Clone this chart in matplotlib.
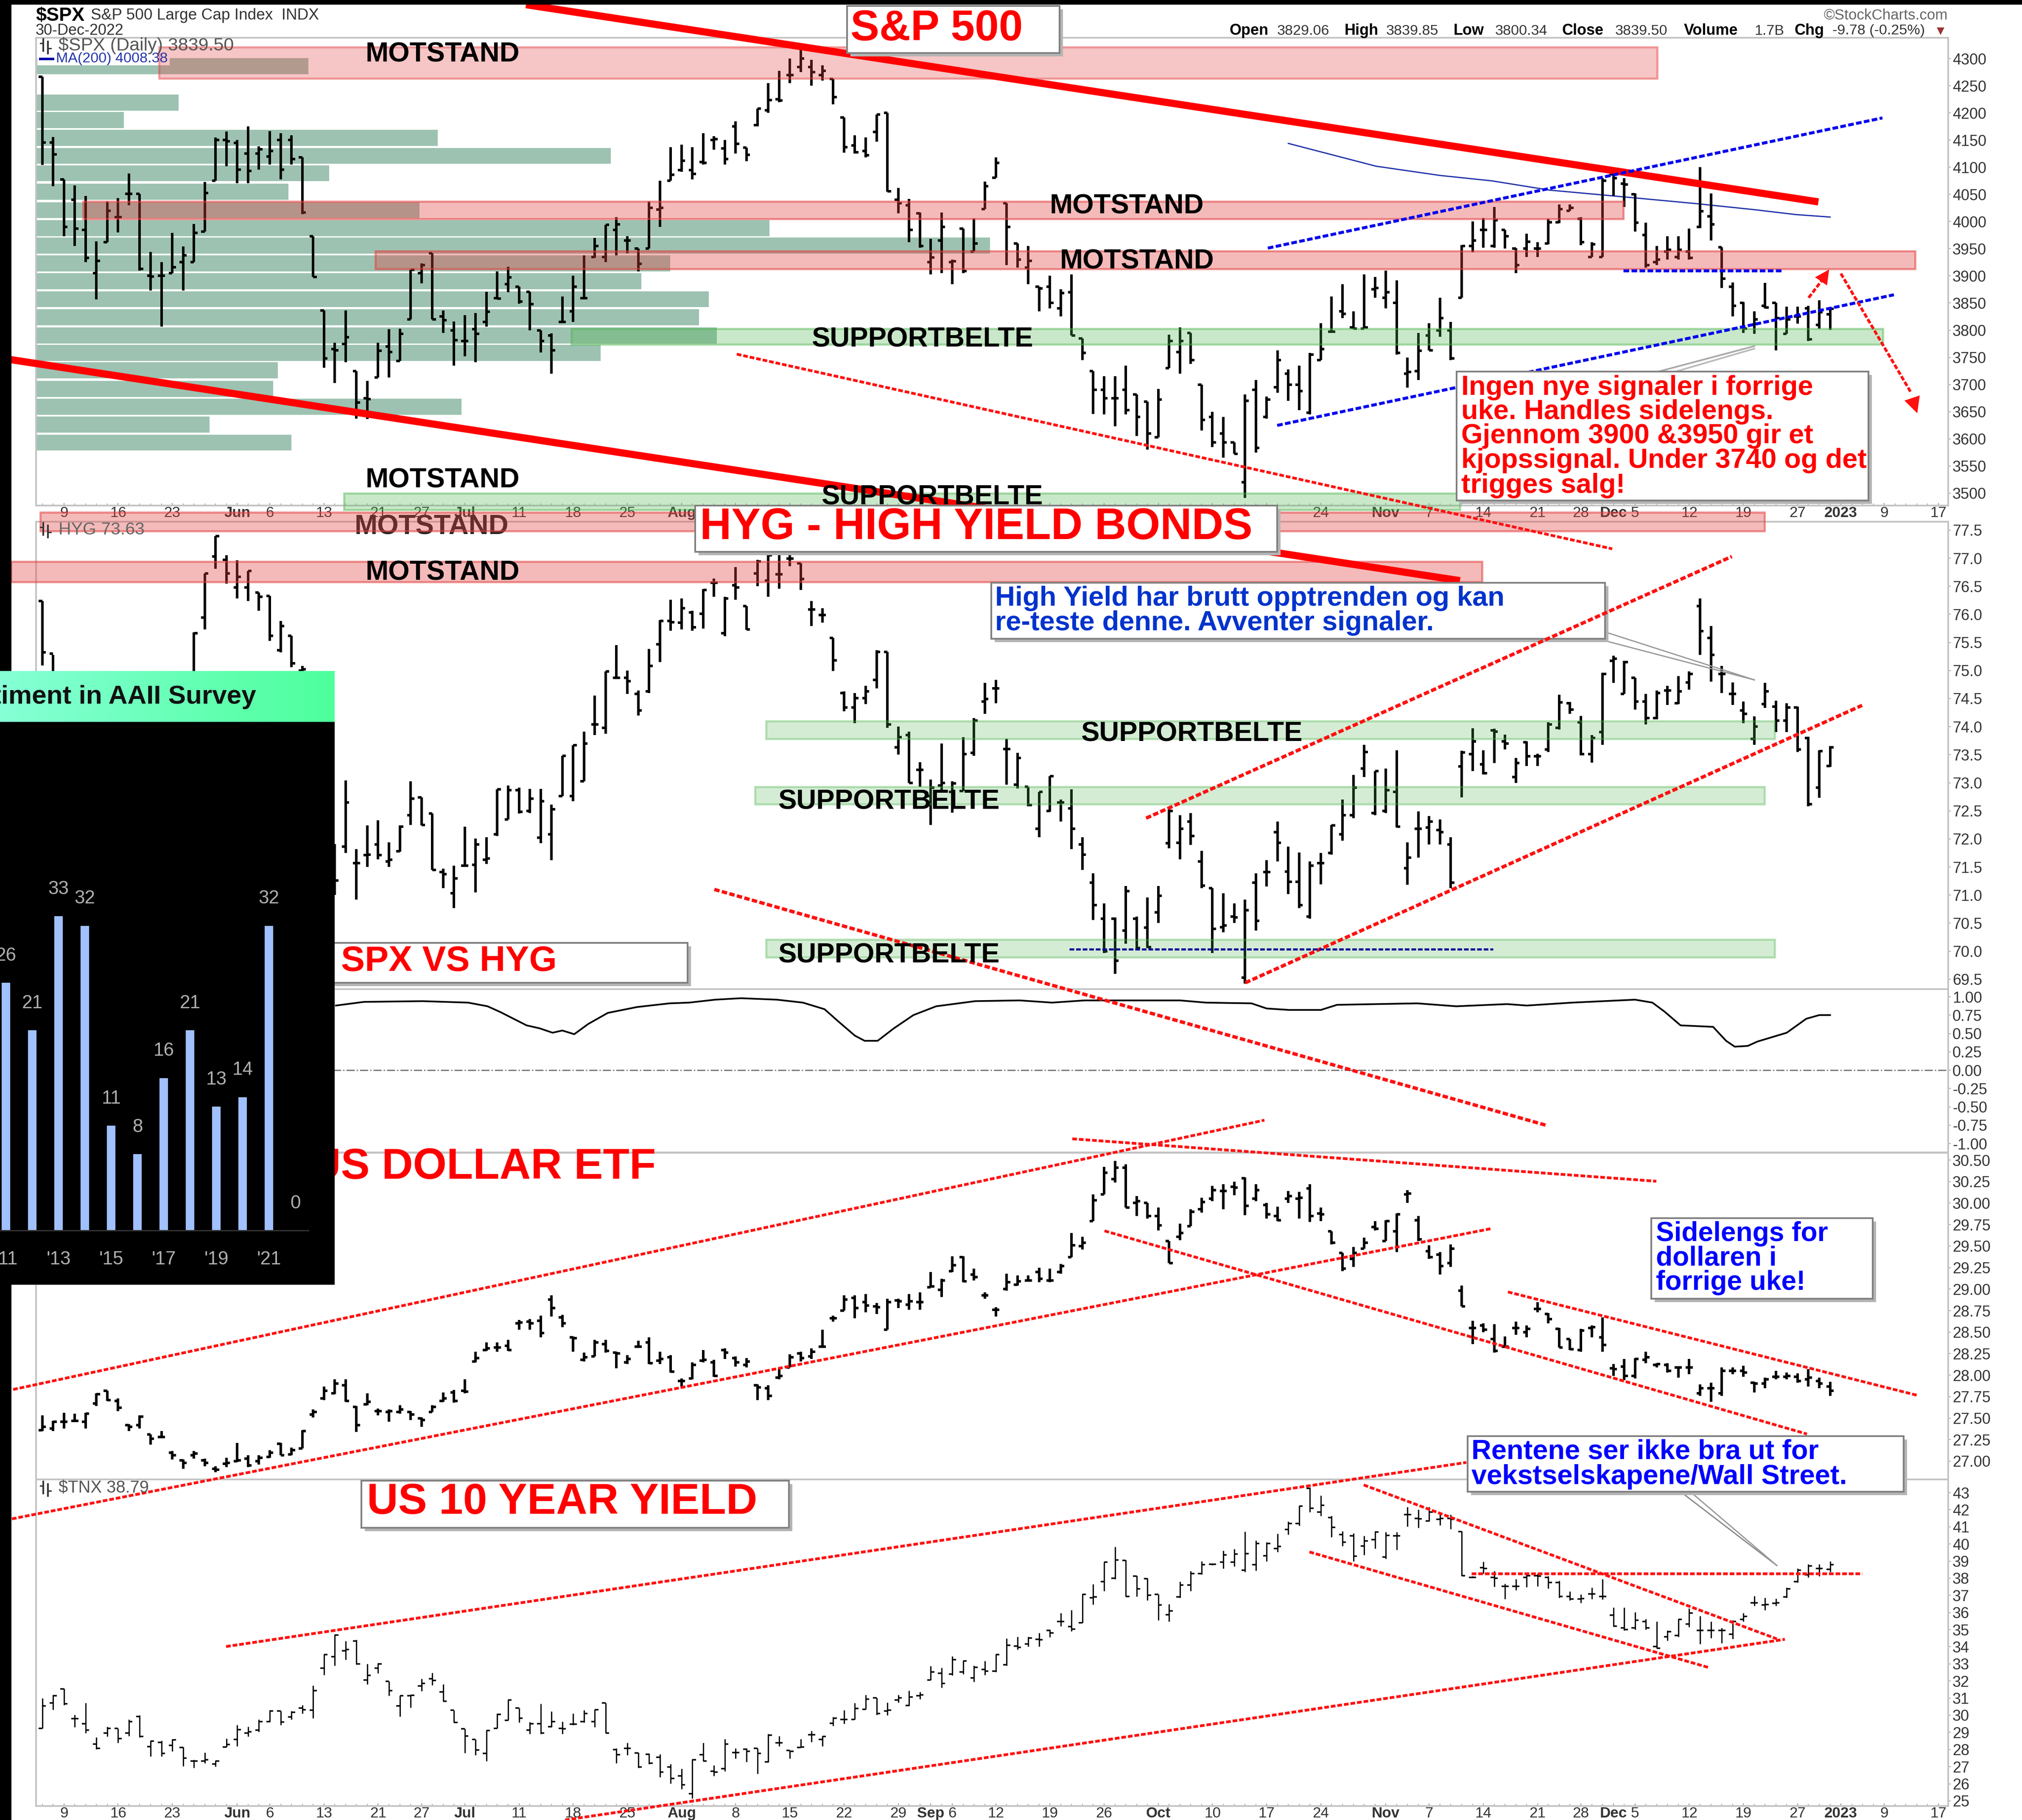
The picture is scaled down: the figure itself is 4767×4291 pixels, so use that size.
import numpy as np
import matplotlib
matplotlib.use("Agg")
import matplotlib.pyplot as plt
from matplotlib.patches import Rectangle
from matplotlib.colors import LinearSegmentedColormap

plt.rcParams['font.family'] = ['Liberation Sans', 'DejaVu Sans']

W = 4767
H = 4291
nan = float('nan')

# ---------- S&P 500 bars ----------
spx_open = [4267,4146,4078,4040,3985,3905,3962,4008,4051,4051,
 3900,3900,3905,3925,3925,3982,4075,4150,4145,4125,
 4125,4120,4150,4150,4118,3973,3836,3765,3775,3725,
 3675,3713,3770,3743,3820,3905,3942,3825,3800,3780,
 3802,3815,3859,3885,3880,3871,3800,3790,3815,3835,
 3859,3935,3935,3985,3965,3950,3950,4022,4075,4095,
 4095,4110,4150,4135,4175,4136,4178,4205,4225,4270,
 4285,4285,4270,4263,4192,4140,4130,4165,4200,4040,
 4030,4015,3925,3965,3925,3987,3945,4023,4081,4034,
 3960,
 3915,3880,3880,3840,3870,3785,3725,3690,3675,3690,
 3682,3668,3603,3730,3760,3795,3700,3640,3610,3593,
 3520,3690,3640,3695,3720,3700,3648,3745,3797,3835,
 3805,3803,3875,3860,3850,3720,3725,3790,3800,3800,
 3860,3955,3985,3955,3985,3950,3950,3950,3960,3999,
 4020,4005,3935,3935,4087,4070,4050,3975,3925,3945,
 3935,3945,3990,4010,3953,3880,3850,3810,3845,3850,
 3793,3825,3840,3810,3829.06]
spx_high = [4267,4156,4078,4067,4047,3964,4037,4043,4089,4051,
 3944,3925,3979,3954,3996,4073,4155,4166,4150,4175,
 4139,4167,4163,4159,4118,3973,3836,3777,3836,3725,
 3707,3777,3802,3803,3911,3923,3942,3836,3816,3828,
 3832,3871,3908,3917,3880,3871,3800,3794,3862,3900,
 3938,3970,3994,4008,3973,3950,4037,4075,4137,4142,
 4137,4163,4157,4150,4185,4136,4208,4255,4278,4300,
 4325,4298,4288,4263,4192,4159,4155,4197,4200,4062,
 4042,4017,3968,4017,3930,3987,4006,4074,4118,4034,
 3960,
 3955,3880,3900,3875,3903,3785,3725,3715,3715,3735,
 3682,3668,3692,3792,3805,3795,3700,3650,3640,3593,
 3682,3708,3678,3763,3728,3735,3758,3813,3862,3885,
 3835,3903,3898,3910,3892,3750,3795,3813,3860,3815,
 3957,4000,4007,4027,3985,3951,3978,3962,4005,4032,
 4032,4008,3962,4080,4090,4080,4052,3998,3955,3973,
 3973,3987,4100,4052,3953,3888,3852,3835,3887,3850,
 3843,3843,3845,3855,3839.85]
spx_low = [4104,4065,3973,3955,3925,3857,3962,3980,4030,3910,
 3873,3807,3905,3873,3925,3982,4075,4102,4071,4071,
 4096,4105,4078,4105,4014,3898,3731,3703,3741,3637,
 3636,3713,3713,3743,3820,3886,3820,3795,3735,3752,
 3741,3807,3857,3870,3849,3800,3759,3720,3815,3815,
 3859,3933,3925,3938,3942,3908,3950,3990,4075,4092,
 4078,4105,4132,4105,4125,4111,4175,4200,4220,4255,
 4275,4250,4260,4216,4127,4125,4118,4147,4055,4015,
 3962,3952,3903,3905,3885,3905,3945,4023,4081,3920,
 3915,
 3885,3835,3840,3825,3790,3745,3646,3645,3623,3645,
 3605,3580,3603,3730,3720,3738,3615,3585,3565,3572,
 3491,3575,3637,3685,3670,3653,3645,3745,3797,3822,
 3802,3803,3860,3840,3755,3694,3708,3763,3788,3745,
 3860,3943,3952,3952,3950,3905,3935,3935,3958,3997,
 4020,3957,3935,3935,4047,4027,3982,3915,3920,3930,
 3930,3930,3988,3965,3878,3825,3795,3793,3840,3763,
 3793,3812,3780,3803,3800.34]
spx_close = [4146,4124,3990,3987,3933,3928,4020,4008,4051,3913,
 3899,3900,3916,3938,3979,4053,4150,4148,4096,4093,
 4133,4130,4096,4115,4017,3898,3748,3763,3787,3667,
 3673,3762,3760,3793,3911,3920,3820,3818,3782,3780,
 3793,3834,3858,3897,3853,3848,3780,3763,3815,3880,
 3859,3955,3994,3995,3965,3922,4025,4025,4086,4112,
 4088,4108,4152,4115,4143,4123,4208,4224,4223,4270,
 4300,4275,4278,4229,4137,4128,4122,4197,4056,4034,
 3985,3955,3934,3990,3927,3909,3960,4065,4108,3990,
 3930,
 3928,3877,3850,3868,3790,3758,3690,3675,3675,3653,
 3640,3610,3672,3780,3780,3745,3635,3593,3593,3572,
 3670,3583,3672,3745,3700,3688,3755,3765,3797,3830,
 3803,3805,3878,3870,3758,3723,3762,3763,3822,3748,
 3955,3965,3985,4003,3973,3920,3963,3950,3999,4023,
 4025,3962,3958,4075,4080,4068,3998,3920,3930,3948,
 3948,3933,4019,3995,3895,3845,3803,3820,3842,3822,
 3820,3825,3783,3833,3839.5]

ma_x = [115,123.1,129,133.8,139.1,146.8,152.7,158,161.8,165]
ma_y = [4144,4102,4085,4075,4058,4044,4033,4022,4013,4008.38]

vbp_price = [4286,4219,4187,4154,4121,4089,4055,4021,3988,3956,3923,3890,3857,3824,3790,3758,3726,3692,3659,3626,3593]
vbp_volume = [642,336,207,947,1355,691,595,904,1729,2249,1495,1427,1586,1563,1605,1331,570,559,1003,409,602]

# ---------- HYG bars (nan = hidden behind the inset) ----------
hyg_open = [76.24,75.3,nan,nan,nan,nan,nan,nan,nan,nan,
 nan,nan,nan,nan,74.7,75.94,77.03,76.97,76.48,76.48,
 76.39,76.33,75.36,75.62,75.0,nan,nan,71.2,71.86,71.57,
 71.71,71.9,71.6,71.78,72.42,72.74,72.45,71.41,71.03,71.52,
 71.54,71.63,72.08,72.35,72.87,72.5,72.02,72.08,72.76,72.76,
 73.03,74.04,73.98,74.87,74.87,74.58,74.63,75.47,75.88,75.85,
 76.03,76.01,76.56,75.66,76.52,76.15,76.73,76.6,76.71,76.99,
 76.91,76.09,75.99,75.58,74.6,74.34,74.51,74.83,75.33,73.63,
 73.85,73.23,72.76,72.95,72.84,72.85,73.53,74.45,74.68,73.6,
 72.97,
 72.93,72.18,72.5,72.65,72.54,71.9,71.22,70.58,70.58,70.37,
 70.58,70.42,70.69,71.92,71.93,72.31,71.6,71.12,70.43,70.62,
 69.53,71.22,71.41,72.12,71.42,71.24,70.62,71.57,71.75,72.08,
 72.42,73.25,72.46,72.5,72.84,71.48,72.18,72.2,72.16,71.9,
 73.29,73.51,73.33,73.93,73.74,73.1,73.72,73.47,73.59,73.98,
 74.42,74.08,73.51,73.9,75.17,74.58,74.87,74.45,74.15,74.64,
 74.42,74.79,76.15,75.58,74.94,74.58,74.29,73.78,74.4,74.36,
 74.11,74.34,73.8,72.91,73.3]
hyg_high = [76.24,75.28,nan,nan,nan,nan,nan,nan,nan,nan,
 nan,nan,nan,nan,75.68,76.73,77.39,77.05,76.96,76.77,
 76.39,76.33,75.88,75.62,75.08,nan,nan,71.91,73.04,71.82,
 72.24,72.33,71.94,72.24,73.03,72.74,72.45,71.47,71.52,72.22,
 72.01,72.03,72.88,72.95,72.91,72.89,72.89,72.61,73.48,73.67,
 73.91,74.55,74.98,75.45,75.0,74.64,75.38,75.9,76.26,76.28,
 76.06,76.45,76.64,76.31,76.84,76.15,76.97,77.12,77.12,77.12,
 76.91,76.24,76.11,75.58,74.63,74.6,74.73,75.36,75.33,74.0,
 73.91,73.37,73.06,73.7,73.03,73.81,74.15,74.78,74.83,73.78,
 73.53,
 72.93,72.84,73.12,72.7,72.88,72.03,71.39,70.85,70.6,71.16,
 70.62,70.96,71.16,72.54,72.42,72.46,71.79,71.12,71.03,70.85,
 70.92,71.39,71.62,72.31,71.86,71.76,71.6,71.75,72.25,72.7,
 73.14,73.68,73.21,73.25,73.58,71.94,72.49,72.41,72.35,72.03,
 73.57,73.97,73.58,73.96,73.86,73.44,73.74,73.52,74.08,74.57,
 74.44,74.19,73.85,74.96,75.26,75.17,74.87,74.58,74.64,74.73,
 74.9,74.98,76.28,75.79,75.08,74.79,74.45,74.18,74.78,74.46,
 74.42,74.36,73.82,73.58,73.65]
hyg_low = [75.09,74.5,nan,nan,nan,nan,nan,nan,nan,nan,
 nan,nan,nan,nan,74.6,75.73,76.81,76.55,76.28,76.24,
 76.06,75.53,75.32,75.06,74.6,nan,nan,71.0,71.75,70.92,
 71.5,71.64,71.5,71.77,72.25,72.24,71.45,71.12,70.77,71.5,
 71.05,71.55,72.05,72.35,72.45,72.46,71.92,71.62,72.76,72.67,
 73.03,73.85,73.87,74.85,74.58,74.2,74.6,75.15,75.71,75.73,
 75.71,75.75,76.31,75.61,76.26,75.72,76.5,76.31,76.46,76.86,
 76.43,75.79,75.85,74.99,74.27,74.06,74.4,74.68,73.98,73.5,
 73.0,72.93,72.25,72.85,72.47,72.85,73.48,74.23,74.42,72.97,
 72.9,
 72.58,72.03,72.48,72.31,71.82,71.45,70.56,69.97,69.6,70.13,
 70.04,70.06,70.5,71.83,71.64,71.89,71.12,69.97,70.34,70.5,
 69.42,70.37,71.15,71.6,71.02,70.77,70.58,71.19,71.72,71.97,
 72.37,73.1,72.42,72.46,72.2,71.18,71.67,71.9,71.9,71.12,
 72.74,73.21,73.15,73.35,73.59,73.0,73.3,73.3,73.55,73.95,
 74.23,73.49,73.36,73.68,74.78,74.58,74.3,74.04,74.13,74.39,
 74.4,74.66,75.28,74.8,74.6,74.39,74.06,73.68,74.33,73.9,
 73.9,73.55,72.58,72.73,73.28]
hyg_close = [75.32,74.9,nan,nan,nan,nan,nan,nan,nan,nan,
 nan,nan,nan,nan,75.66,76.73,77.39,76.73,76.67,76.77,
 76.31,75.62,75.79,75.13,75.02,nan,nan,71.26,72.65,71.57,
 71.72,71.71,71.63,72.22,72.72,72.25,71.45,71.37,71.3,71.52,
 71.9,71.65,72.88,72.87,72.48,72.72,72.67,72.53,73.48,73.67,
 73.7,74.04,74.98,74.87,74.81,74.29,75.08,75.88,75.86,76.11,
 75.77,76.43,76.56,76.28,76.48,75.73,76.94,77.05,76.71,76.99,
 76.63,76.09,75.99,75.18,74.34,74.51,74.63,75.33,74.04,73.81,
 73.0,73.23,72.91,73.0,72.99,73.51,74.11,74.49,74.68,73.6,
 73.44,
 72.6,72.84,73.12,72.65,72.18,71.72,70.82,70.0,69.83,71.07,
 70.06,70.07,70.99,72.5,72.18,72.05,71.17,70.4,70.46,70.6,
 70.73,70.54,71.41,71.93,71.24,70.82,71.52,71.57,72.24,72.42,
 72.91,73.55,73.21,72.87,72.22,71.67,72.18,72.31,72.12,71.22,
 73.54,73.74,73.17,73.91,73.7,73.35,73.47,73.47,74.04,74.43,
 74.3,73.51,73.8,74.94,75.21,75.15,74.45,74.15,74.6,74.64,
 74.63,74.94,75.7,75.28,74.94,74.58,74.23,74.0,74.63,74.11,
 74.34,73.59,72.62,73.56,73.63]

# ---------- SPX vs HYG correlation ----------
corr_x = [27.1,29.7,35.1,39.3,41.1,42.3,44.7,45.9,47.1,48,49.1,50.4,52.2,54.9,57.9,59.7,62.1,64.5,67.8,70.2,
 72.2,73.5,75,75.9,77.1,78.6,80.4,82.5,86.1,90.2,93.2,96.2,105,107.4,111.6,113,115.1,118,119.5,126.9,
 130.5,135.2,137,141.2,147,148.6,149.7,151.2,154.2,155.4,156.2,157.4,158.3,161,162.8,164,165]
corr_y = [.88,.93,.94,.92,.87,.79,.61,.57,.51,.54,.49,.63,.78,.86,.91,.92,.96,.98,.96,.92,
 .83,.66,.47,.40,.40,.57,.75,.87,.94,.95,.92,.95,.95,.92,.91,.84,.82,.82,.89,.91,
 .87,.90,.88,.92,.96,.92,.80,.61,.59,.40,.32,.33,.39,.51,.70,.75,.75]

# ---------- US dollar ETF bars ----------
uup_open = [27.36,27.38,27.46,27.47,27.46,27.67,27.82,27.7,27.42,27.42,
 27.31,27.28,27.1,27.01,27.07,27.01,26.91,26.97,27.0,27.03,
 27.0,27.05,27.2,27.08,27.15,27.54,27.73,27.79,27.88,27.63,
 27.66,27.58,27.57,27.57,27.57,27.5,27.57,27.7,27.8,27.82,
 28.16,28.29,28.32,28.34,28.6,28.62,28.63,28.88,28.67,28.44,
 28.18,28.22,28.36,28.26,28.15,28.33,28.38,28.17,28.21,27.93,
 27.96,28.17,28.15,28.29,28.2,28.12,27.88,27.85,27.97,28.09,
 28.25,28.22,28.33,28.66,28.75,28.9,28.85,28.8,28.53,28.87,
 28.82,28.85,29.02,28.99,29.21,29.37,29.17,28.93,28.76,29.0,
 29.05,
 29.10,29.2,29.1,29.2,29.37,29.5,29.79,30.1,30.28,30.41,
 30.0,30.0,29.85,29.56,29.61,29.73,29.93,30.05,30.14,30.19,
 30.29,30.05,29.98,29.85,30.05,30.05,30.17,29.88,29.67,29.42,
 29.35,29.47,29.72,29.56,29.67,30.1,29.8,29.44,29.4,29.3,
 28.98,28.55,28.58,28.42,28.33,28.55,28.5,28.77,28.71,28.54,
 28.42,28.29,28.55,28.44,28.08,28.1,27.99,28.18,28.12,28.12,
 28.09,28.09,27.79,27.85,27.79,28.05,28.05,27.91,27.9,27.98,
 27.98,27.98,27.95,27.93,27.87]
uup_high = [27.53,27.47,27.56,27.55,27.56,27.79,27.82,27.73,27.43,27.53,
 27.31,27.35,27.12,27.02,27.12,27.03,26.94,27.04,27.21,27.07,
 27.07,27.13,27.21,27.16,27.36,27.6,27.87,27.95,27.95,27.64,
 27.79,27.61,27.6,27.65,27.58,27.51,27.65,27.8,27.83,27.95,
 28.27,28.38,28.38,28.41,28.64,28.65,28.69,28.93,28.7,28.45,
 28.26,28.41,28.41,28.27,28.23,28.4,28.44,28.27,28.23,27.96,
 28.15,28.29,28.18,28.31,28.22,28.2,27.89,27.88,28.09,28.24,
 28.27,28.31,28.53,28.69,28.93,28.93,28.94,28.84,28.89,28.89,
 28.94,28.96,29.2,29.12,29.38,29.38,29.24,28.96,28.79,29.18,
 29.16,
 29.16,29.25,29.24,29.29,29.65,29.61,30.1,30.42,30.49,30.45,
 30.08,30.0,29.95,29.56,29.76,29.93,30.06,30.2,30.22,30.25,
 30.3,30.22,30.0,29.96,30.14,30.13,30.22,29.95,29.67,29.42,
 29.49,29.6,29.79,29.8,29.88,30.15,29.85,29.51,29.43,29.52,
 29.04,28.63,28.6,28.59,28.45,28.62,28.58,28.85,28.72,28.55,
 28.42,28.54,28.58,28.67,28.13,28.19,28.2,28.27,28.14,28.14,
 28.1,28.19,27.89,27.91,28.09,28.09,28.11,27.92,27.97,28.05,
 28.03,28.02,28.07,27.97,27.92]
uup_low = [27.35,27.35,27.38,27.46,27.38,27.64,27.7,27.58,27.35,27.38,
 27.19,27.27,27.02,26.91,27.03,26.94,26.87,26.93,26.99,26.93,
 26.96,27.04,27.07,27.07,27.15,27.51,27.71,27.78,27.69,27.34,
 27.65,27.53,27.46,27.55,27.48,27.4,27.57,27.69,27.68,27.79,
 28.15,28.28,28.27,28.28,28.53,28.53,28.44,28.68,28.56,28.27,
 28.16,28.22,28.26,28.08,28.13,28.32,28.13,28.13,28.03,27.86,
 27.95,28.15,27.98,28.19,28.1,28.09,27.71,27.71,27.95,28.09,
 28.16,28.19,28.32,28.62,28.75,28.66,28.73,28.71,28.53,28.78,
 28.76,28.76,29.02,28.91,29.2,29.08,29.1,28.89,28.68,28.98,
 29.04,
 29.09,29.08,29.08,29.18,29.37,29.46,29.79,30.1,30.24,29.95,
 29.85,29.82,29.68,29.3,29.57,29.73,29.89,30.02,29.93,30.09,
 29.86,30.02,29.82,29.79,30.0,29.82,29.78,29.79,29.52,29.21,
 29.26,29.47,29.68,29.56,29.43,30.0,29.56,29.35,29.17,29.26,
 28.8,28.36,28.5,28.26,28.33,28.47,28.44,28.73,28.6,28.32,
 28.29,28.27,28.44,28.27,27.99,27.94,27.96,28.14,28.09,28.03,
 27.97,28.01,27.76,27.69,27.76,28.01,27.98,27.8,27.85,27.95,
 27.95,27.91,27.87,27.85,27.76]
uup_close = [27.4,27.46,27.46,27.47,27.55,27.78,27.71,27.62,27.4,27.52,
 27.26,27.28,27.07,26.98,27.09,26.98,26.9,26.98,27.01,26.95,
 27.04,27.1,27.07,27.13,27.35,27.57,27.82,27.9,27.7,27.42,
 27.69,27.58,27.58,27.6,27.54,27.48,27.63,27.73,27.7,27.81,
 28.2,28.31,28.32,28.29,28.61,28.6,28.49,28.78,28.6,28.43,
 28.21,28.38,28.28,28.25,28.19,28.33,28.14,28.19,28.04,27.93,
 28.12,28.18,27.99,28.26,28.15,28.16,27.86,27.76,27.99,28.21,
 28.2,28.27,28.33,28.66,28.88,28.78,28.81,28.79,28.85,28.86,
 28.86,28.85,29.03,29.1,29.28,29.09,29.14,28.93,28.76,29.08,
 29.09,
 29.1,29.12,29.1,29.27,29.51,29.54,30.03,30.35,30.41,29.95,
 30.02,29.85,29.74,29.3,29.65,29.9,30.01,30.15,30.14,30.18,
 29.97,30.15,29.87,29.8,30.08,30.06,29.85,29.87,29.54,29.24,
 29.42,29.54,29.7,29.79,29.87,30.11,29.58,29.37,29.27,29.47,
 28.8,28.55,28.53,28.28,28.33,28.55,28.54,28.77,28.65,28.32,
 28.3,28.52,28.56,28.35,28.07,27.99,28.19,28.21,28.13,28.05,
 28.09,28.09,27.85,27.85,28.05,28.05,28.03,27.9,27.95,27.98,
 27.99,27.93,27.97,27.9,27.82]

# ---------- TNX bars ----------
tnx_open = [29.24,30.71,31.53,29.8,29.5,28.32,28.97,29.24,28.97,29.92,
 28.16,28.42,28.25,28.12,27.33,27.33,27.16,28.15,28.58,28.97,
 29.13,29.63,30.26,29.89,30.42,30.29,32.75,33.41,33.76,34.33,
 32.06,32.74,31.97,30.55,31.14,31.7,32.12,31.36,30.29,29.2,
 28.58,27.77,29.24,29.7,30.42,29.13,29.5,29.34,29.24,29.47,
 29.63,29.63,30.71,27.99,28.06,27.8,27.73,27.56,26.97,26.46,
 25.43,27.69,26.72,26.88,27.82,28.03,28.06,27.27,28.38,27.95,
 28.12,28.87,28.58,29.53,29.76,29.76,30.35,31.01,30.26,30.88,
 30.58,31.14,32.06,32.45,32.39,32.52,32.19,32.67,32.58,32.94,
 34.03,
 34.15,34.44,34.95,35.47,35.18,35.4,36.87,37.79,38.0,39.03,
 38.12,37.97,37.06,35.88,36.91,37.6,38.26,38.81,38.93,38.93,
 38.48,38.78,39.32,39.73,40.84,41.2,43.26,41.87,41.53,40.54,
 40.47,39.88,40.25,39.25,40.47,41.72,41.5,41.35,41.43,41.5,
 40.73,38.06,38.63,38.04,37.53,37.53,38.04,38.15,38.04,37.75,
 36.94,36.79,37.09,36.94,35.84,35.1,35.1,35.47,34.0,34.59,
 34.66,35.32,34.95,34.95,34.95,34.73,35.59,36.57,36.43,36.53,
 36.91,37.79,38.19,38.56,38.53]
tnx_high = [30.98,31.2,31.57,30.03,30.71,28.71,29.34,29.24,29.76,30.0,
 28.52,28.52,28.58,28.15,27.4,27.83,27.36,28.65,29.43,29.34,
 29.74,30.29,30.26,30.26,30.6,31.73,33.57,34.71,34.33,34.42,
 33.0,33.04,31.97,31.14,31.2,32.12,32.48,31.8,30.29,29.2,
 28.58,29.13,30.09,30.91,30.42,29.6,30.66,30.22,29.63,30.09,
 30.29,30.31,30.71,28.06,28.39,27.82,27.77,27.73,27.15,26.88,
 27.43,28.38,27.07,28.61,28.06,28.08,28.08,28.91,28.78,27.95,
 28.61,29.08,28.78,29.89,30.29,30.71,31.18,31.01,30.75,31.18,
 31.44,31.36,32.88,32.78,33.44,33.2,32.91,33.17,33.57,34.49,
 34.58,
 34.59,34.81,35.0,35.98,36.13,37.09,37.65,38.95,39.84,39.07,
 38.15,38.0,37.06,36.5,37.79,38.41,39.0,38.85,39.62,39.7,
 40.72,40.2,40.1,40.59,41.32,42.23,43.29,42.82,41.65,40.76,
 40.62,40.47,40.76,40.69,40.69,42.16,42.01,42.16,41.87,41.72,
 40.76,38.12,38.97,38.41,37.68,37.94,38.26,38.26,38.12,37.85,
 37.23,37.06,37.45,37.94,36.28,36.28,36.02,35.62,35.47,34.95,
 35.62,36.23,35.79,35.47,35.1,35.54,35.98,36.97,36.87,36.82,
 37.45,38.56,38.82,38.82,39.0]
tnx_low = [29.24,30.31,30.6,29.3,28.97,28.03,28.75,28.38,28.78,28.71,
 27.6,27.6,27.9,27.03,26.92,27.2,27.01,28.15,28.19,28.75,
 29.04,29.6,29.43,29.76,30.09,29.83,32.36,32.91,33.24,32.98,
 31.8,32.45,31.14,29.92,30.45,31.4,31.76,30.81,29.59,27.8,
 27.66,27.33,29.24,29.7,29.57,28.91,28.91,29.3,28.91,29.43,
 29.57,29.3,28.97,27.2,27.66,26.94,27.14,26.38,26.02,25.69,
 25.14,27.33,26.46,26.74,27.47,27.27,26.59,27.24,28.19,27.47,
 28.12,28.45,28.19,29.37,29.5,29.74,30.35,30.03,30.0,30.75,
 30.55,30.94,32.06,31.62,32.32,32.39,31.95,32.36,32.52,32.91,
 33.83,
 34.0,34.0,34.56,35.2,34.91,35.4,36.47,37.26,37.94,36.94,
 36.94,36.72,35.54,35.47,36.87,37.26,38.23,38.76,38.56,38.7,
 38.38,38.44,39.0,39.54,40.54,41.06,41.87,41.65,40.4,39.88,
 39.0,39.37,39.73,39.15,39.66,41.03,40.95,41.32,41.1,40.88,
 38.16,38.03,38.26,37.5,36.79,37.31,37.48,37.53,37.41,36.87,
 36.72,36.57,36.79,36.76,35.18,34.95,35.0,35.0,33.92,34.37,
 34.59,35.15,34.15,34.51,34.22,34.47,35.47,36.4,36.13,36.4,
 36.87,37.75,38.04,38.12,38.38]
tnx_close = [30.55,31.14,30.68,29.8,29.13,28.06,29.24,28.65,29.63,28.75,
 28.48,27.77,28.56,27.49,27.33,27.4,27.33,28.3,29.17,29.04,
 29.63,30.26,29.6,30.18,30.31,31.44,33.54,34.68,33.83,33.0,
 32.32,33.0,31.44,31.14,31.17,31.86,32.02,30.81,29.59,28.78,
 27.97,29.11,30.05,30.88,29.83,29.5,28.95,29.63,29.21,29.47,
 30.09,30.31,28.97,27.69,28.06,26.98,27.2,26.68,26.32,25.93,
 27.4,27.33,26.68,28.32,27.82,27.9,27.77,28.84,28.38,27.9,
 28.15,28.87,28.75,29.83,29.74,30.39,30.94,30.09,30.29,31.01,
 31.07,31.2,32.52,31.86,33.24,33.17,32.81,32.58,33.54,34.09,
 33.96,
 34.51,34.41,34.81,35.47,35.03,37.06,36.9,38.93,39.07,36.94,
 37.38,37.01,36.43,36.09,37.6,38.26,38.78,38.81,39.37,39.41,
 39.44,40.03,40.03,39.85,41.2,42.2,42.09,42.26,40.98,40.1,
 39.29,40.18,40.69,40.5,40.47,41.72,41.47,41.87,41.5,41.43,
 38.16,38.06,38.56,38.0,37.53,37.53,38.15,38.12,37.75,36.94,
 36.79,36.82,37.09,36.94,35.2,35.0,35.54,35.1,33.92,34.88,
 35.59,35.98,34.95,34.95,34.95,35.47,35.76,36.57,36.47,36.57,
 37.38,38.48,38.71,38.56,38.79]

# ---------- inset bars ----------
inset_year = [2011,2012,2013,2014,2015,2016,2017,2018,2019,2020,2021,2022]
inset_val = [26,21,33,32,11,8,16,21,13,14,32,0]
inset_tick_year = [2011,2013,2015,2017,2019,2021]
inset_tick_lab = ["'11","'13","'15","'17","'19","'21"]

# ---------- axis labels ----------
x_tick_pos = [2,7,12,18,21,26,31,35,39,44,49,54,59,64,69,74,79,82,84,88,93,98,103,108,113,118,124,128,133,138,142,145,147,152,157,162,166,170,175]
x_tick_lab = ['9','16','23','Jun','6','13','21','27','Jul','11','18','25','Aug','8','15','22','29','Sep','6','12','19','26','Oct','10','17','24','Nov','7','14','21','28','Dec','5','12','19','27','2023','9','17']
bold_lab = ['Jun','Jul','Aug','Sep','Oct','Nov','Dec','2023']

# bands: x0, x1, y0, y1, colour
red_band = (0.89, 0.25, 0.25)
green_band = (0.30, 0.70, 0.30)
bands = [
 (375,3907,111,185,red_band,.30),
 (196,3827,475,516,red_band,.36),
 (885,4515,592,634,red_band,.36),
 (1347,4439,775,812,green_band,.30),
 (811,3442,1163,1202,green_band,.30),
 (95,4160,1208,1252,red_band,.36),
 (26,3494,1324,1372,red_band,.36),
 (1806,4184,1700,1742,green_band,.24),
 (1780,4160,1855,1896,green_band,.24),
 (1806,4184,2215,2257,green_band,.24),
]

# trend lines: x0, y0, x1, y1
thick_red = [(1240,11,4287,476),(26,848,3442,1369)]
hyg_red = [(2936,2317,4390,1663),(1684,2097,3645,2653)]
hyg_red_top = [(2702,1929,4083,1312)]
thin_red = [(1737,835,3801,1294),
 (31,3276,2981,2641),(2528,2685,3905,2785),(28,3581,3514,2897),(2604,2902,4260,3381),(3555,3046,4521,3290),
 (533,3882,3457,3448),(1332,4291,4208,3865),(3215,3501,4189,3864),(3087,3659,4030,3932),(3469,3710,4390,3710)]
blue_dash = [(2989,585,4438,278),(3011,1003,4465,695),(3827,638,4204,638)]


def pt(px):
    return px*0.72


def panel(y0, y1, ylim, yticks, fmt):
    ax = fig.add_axes([85/W, 1-y1/H, (4593-85)/W, (y1-y0)/H])
    ax.set_xlim(-0.57, 175.9)
    ax.set_ylim(*ylim)
    ax.yaxis.tick_right()
    ax.set_yticks(yticks)
    ax.set_yticklabels([fmt % v for v in yticks], fontsize=pt(36), color='#333333')
    ax.tick_params(axis='y', length=pt(6), width=pt(2), color='#aaaaaa', pad=pt(4))
    ax.set_xticks([])
    for s in ax.spines.values():
        s.set_color('#c4c4c4')
        s.set_linewidth(pt(4))
    return ax


def date_axis(ax):
    ax.set_xticks(x_tick_pos)
    ax.set_xticklabels(x_tick_lab, fontsize=pt(35), color='#333333')
    for t in ax.get_xticklabels():
        if t.get_text() in bold_lab:
            t.set_fontweight('bold')
    ax.set_xticks(np.arange(0, 176), minor=True)
    ax.tick_params(axis='x', which='major', length=pt(6), width=pt(2), color='#999999', pad=pt(1), direction='in')
    ax.tick_params(axis='x', which='minor', length=pt(5), width=pt(2), color='#aaaaaa', direction='in')


def ohlc(ax, o, h, l, c, lw, tick_lw):
    x = np.arange(len(c))
    ax.vlines(x, l, h, color='black', lw=pt(lw), zorder=3)
    ax.hlines(o, x-0.33, x, color='black', lw=pt(tick_lw), zorder=3)
    ax.hlines(c, x, x+0.33, color='black', lw=pt(tick_lw), zorder=3)


def box(x0, y0, x1, y1):
    ov.add_patch(Rectangle((x0+8, y0+8), x1-x0, y1-y0, fc='#b4b4b4', ec='none', zorder=6))
    ov.add_patch(Rectangle((x0, y0), x1-x0, y1-y0, fc='white', ec='#808080', lw=pt(4), zorder=6.1))


def label(x, y, s, size, color='black', weight='bold', ha='left', zorder=7):
    ov.text(x, y+5, s, fontsize=pt(size), color=color, fontweight=weight, ha=ha, va='center', zorder=zorder)


def icon(y):
    ov.plot([102, 102], [y-16, y+12], color='#333333', lw=pt(4), zorder=7)
    ov.plot([113, 113], [y-10, y+18], color='#333333', lw=pt(4), zorder=7)
    ov.plot([95, 102], [y-6, y-6], color='#333333', lw=pt(3), zorder=7)
    ov.plot([113, 120], [y+6, y+6], color='#333333', lw=pt(3), zorder=7)


assert len(spx_open) == len(spx_high) == len(spx_low) == len(spx_close) == 166
assert len(hyg_open) == len(hyg_high) == len(hyg_low) == len(hyg_close) == 166
assert len(uup_open) == len(uup_high) == len(uup_low) == len(uup_close) == 166
assert len(tnx_open) == len(tnx_high) == len(tnx_low) == len(tnx_close) == 166

fig = plt.figure(figsize=(W/100, H/100), dpi=100)

# ---------- panels ----------
ax1 = panel(89, 1192, (3477, 4338.6), list(range(3500, 4301, 50)), '%d')
date_axis(ax1)
vol = ax1.twiny()
vol.set_xlim(0, 4508)
vol.barh(vbp_price, vbp_volume, height=29.5, color='#9dc2b1', zorder=1)
vol.set_axis_off()
vol.set_zorder(0)
ax1.set_zorder(1)
ax1.patch.set_visible(False)
ohlc(ax1, spx_open, spx_high, spx_low, spx_close, 6, 6)
ax1.plot(ma_x, ma_y, color='#2233aa', lw=pt(3), zorder=2)

ax2 = panel(1230, 2332, (69.325, 77.65), list(np.arange(69.5, 77.6, .5)), '%.1f')
ohlc(ax2, hyg_open, hyg_high, hyg_low, hyg_close, 6, 6)

ax3 = panel(2332, 2717, (-1.12, 1.104), list(np.arange(-1, 1.01, .25)), '%.2f')
ax3.plot(corr_x, corr_y, color='black', lw=pt(4))
ax3.axhline(0, color='#777777', lw=pt(3), ls='-.')

ax4 = panel(2718, 3488, (26.788, 30.584), list(np.arange(27, 30.6, .25)), '%.2f')
ohlc(ax4, uup_open, uup_high, uup_low, uup_close, 6, 6)

ax5 = panel(3488, 4258, (24.7, 43.77), list(range(25, 44)), '%d')
date_axis(ax5)
ohlc(ax5, tnx_open, tnx_high, tnx_low, tnx_close, 3, 3.5)

# ---------- overlay in image pixels ----------
ov = fig.add_axes([0, 0, 1, 1])
ov.set_xlim(0, W)
ov.set_ylim(H, 0)
ov.set_axis_off()
ov.patch.set_visible(False)
ov.set_zorder(5)

ov.add_patch(Rectangle((88, 92), 312, 62, fc='white', ec='none', zorder=1))
label(836, 1238, 'MOTSTAND', 65, color='#222222', zorder=1.5)

for x0, x1, y0, y1, c, a in bands:
    ov.add_patch(Rectangle((x0, y0), x1-x0, y1-y0, fc=c+(a,), ec=c+(min(a*1.5, 1),), lw=pt(5), zorder=2))

for x0, y0, x1, y1 in thick_red:
    ov.plot([x0, x1], [y0, y1], color='#ff0000', lw=pt(17), solid_capstyle='butt', zorder=3)
for x0, y0, x1, y1 in thin_red:
    ov.plot([x0, x1], [y0, y1], color='#ff1010', lw=pt(6.5), ls=(0, (1.7, 0.7)), zorder=3)
for x0, y0, x1, y1 in hyg_red:
    ov.plot([x0, x1], [y0, y1], color='#ff1010', lw=pt(8), ls=(0, (1.6, 0.7)), zorder=3)
for x0, y0, x1, y1 in hyg_red_top:
    ov.plot([x0, x1], [y0, y1], color='#ff1010', lw=pt(8), ls=(0, (1.6, 0.7)), zorder=6.5)
for x0, y0, x1, y1 in blue_dash:
    ov.plot([x0, x1], [y0, y1], color='#0000ee', lw=pt(7), ls=(0, (1.9, 0.8)), zorder=3)
ov.plot([2521, 3520], [2238, 2238], color='#000099', lw=pt(5), ls=(0, (2.2, 0.9)), zorder=3)

# red arrows
ov.plot([4264, 4296], [702, 660], color='#ff1010', lw=pt(6.5), ls=(0, (1.7, 0.7)), zorder=3)
ov.plot([4340, 4505], [645, 925], color='#ff1010', lw=pt(6.5), ls=(0, (1.7, 0.7)), zorder=3)
ov.annotate('', xy=(4314, 633), xytext=(4290, 668), arrowprops=dict(arrowstyle='-|>', color='#ff1010', mutation_scale=pt(85), lw=0), zorder=3)
ov.annotate('', xy=(4521, 977), xytext=(4500, 915), arrowprops=dict(arrowstyle='-|>', color='#ff1010', mutation_scale=pt(95), lw=0), zorder=3)

# band labels
for x, y in [(862, 123), (2475, 481), (2499, 611), (862, 1127), (862, 1346)]:
    label(x, y, 'MOTSTAND', 65)
for x, y in [(1913, 795), (1936, 1168), (2548, 1725), (1834, 1886), (1834, 2247)]:
    label(x, y, 'SUPPORTBELTE', 65)

# callout tails
ov.plot([3910, 4136], [876, 816], color='#aaaaaa', lw=pt(4), zorder=5)
ov.plot([3930, 4136], [882, 822], color='#bbbbbb', lw=pt(4), zorder=5)
ov.plot([3784, 4136], [1490, 1603], color='#999999', lw=pt(3), zorder=5)
ov.plot([3766, 4136], [1506, 1603], color='#999999', lw=pt(3), zorder=5)
ov.plot([3962, 4189], [3517, 3691], color='#888888', lw=pt(3), zorder=5)
ov.plot([3985, 4189], [3517, 3691], color='#999999', lw=pt(3), zorder=5)

# title boxes
box(1997, 14, 2498, 125)
label(2005, 63, 'S&P 500', 102, color='#ff0000')
box(1639, 1192, 3011, 1301)
label(1650, 1240, 'HYG - HIGH YIELD BONDS', 103, color='#ff0000')
box(700, 2223, 1621, 2317)
label(804, 2262, 'SPX VS HYG', 84, color='#ff0000')
label(1546, 2748, 'US DOLLAR ETF', 102, color='#ff0000', ha='right', zorder=4)
box(852, 3491, 1860, 3602)
label(865, 3538, 'US 10 YEAR YIELD', 102, color='#ff0000')

# comment boxes
box(3434, 876, 4405, 1180)
for y, s in zip([909, 966, 1023, 1081, 1140],
                ['Ingen nye signaler i forrige', 'uke. Handles sidelengs.', 'Gjennom 3900 &3950 gir et',
                 'kjopssignal. Under 3740 og det', 'trigges salg!']):
    label(3445, y, s, 65, color='#ff0000')
box(2337, 1374, 3784, 1506)
label(2346, 1406, 'High Yield har brutt opptrenden og kan', 65, color='#0033cc')
label(2346, 1464, 're-teste denne. Avventer signaler.', 65, color='#0033cc')
box(3893, 2872, 4415, 3062)
for y, s in zip([2904, 2962, 3019], ['Sidelengs for', 'dollaren i', 'forrige uke!']):
    label(3904, y, s, 64, color='#0000ff')
box(3460, 3386, 4488, 3517)
label(3469, 3417, 'Rentene ser ikke bra ut for', 65, color='#0000ff')
label(3469, 3477, 'vekstselskapene/Wall Street.', 65, color='#0000ff')

# header texts
label(84, 32, '$SPX', 45)
label(214, 32, 'S&P 500 Large Cap Index  INDX', 37, color='#333333', weight='normal')
label(84, 68, '30-Dec-2022', 36, color='#333333', weight='normal')
icon(108)
label(138, 103, '$SPX (Daily) 3839.50', 43, color='#555555', weight='normal')
ov.plot([95, 125], [139, 139], color='#0000aa', lw=pt(6), zorder=7)
label(132, 134, 'MA(200) 4008.38', 34, color='#2233aa', weight='normal')
icon(1249)
label(138, 1244, 'HYG 73.63', 41, color='#666666', weight='normal')
icon(3509)
label(138, 3504, '$TNX 38.79', 40, color='#555555', weight='normal')
label(4592, 32, '\u00a9StockCharts.com', 35, color='#666666', weight='normal', ha='right')
head_x = [2898, 3170, 3427, 3683, 3970, 4231]
head_name = ['Open', 'High', 'Low', 'Close', 'Volume', 'Chg']
head_val_x = [3011, 3268, 3525, 3808, 4136, 4320]
head_val = ['3829.06', '3839.85', '3800.34', '3839.50', '1.7B', '-9.78 (-0.25%)']
for x, s in zip(head_x, head_name):
    label(x, 68, s, 36)
for x, s in zip(head_val_x, head_val):
    label(x, 68, s, 34, color='#333333', weight='normal')
label(4566, 68, '\u25be', 36, color='#993333', weight='normal')

# black frame of the screenshot
ov.add_patch(Rectangle((0, 0), 27, H, fc='black', ec='none', zorder=9))
ov.add_patch(Rectangle((0, 0), W, 11, fc='black', ec='none', zorder=9))

# ---------- pasted AAII chart ----------
ins = fig.add_axes([0, 1-3029/H, 789/W, (3029-1702)/H], facecolor='black')
ins.set_zorder(10)
ins.set_xlim(2010.77, 2023.5)
ins.set_ylim(-5.7, 53.4)
ins.bar(inset_year, inset_val, width=0.33, color='#a0c0ff')
ins.plot([2010.77, 2022.5], [0, 0], color='#333333', lw=pt(3))
for x, v in zip(inset_year, inset_val):
    ins.text(x, v+2.85, str(v), color='#b0b0b0', ha='center', va='center', fontsize=pt(44))
for x, s in zip(inset_tick_year, inset_tick_lab):
    ins.text(x, -3.03, s, color='#b0b0b0', ha='center', va='center', fontsize=pt(44))
ins.set_xticks([])
ins.set_yticks([])
for s in ins.spines.values():
    s.set_visible(False)

head = fig.add_axes([0, 1-1702/H, 789/W, 120/H])
head.set_zorder(10)
green_cmap = LinearSegmentedColormap.from_list('hdr', ['#86ffd6', '#4dff9c'])
head.imshow(np.linspace(0, 1, 256).reshape(1, -1), aspect='auto', cmap=green_cmap, extent=(0, 789, 0, 120))
head.text(604, 58, 'timent in AAII Survey', fontsize=pt(62), fontweight='bold', color='#111111', ha='right', va='center')
head.set_axis_off()

fig.savefig('out.png', dpi=100)
